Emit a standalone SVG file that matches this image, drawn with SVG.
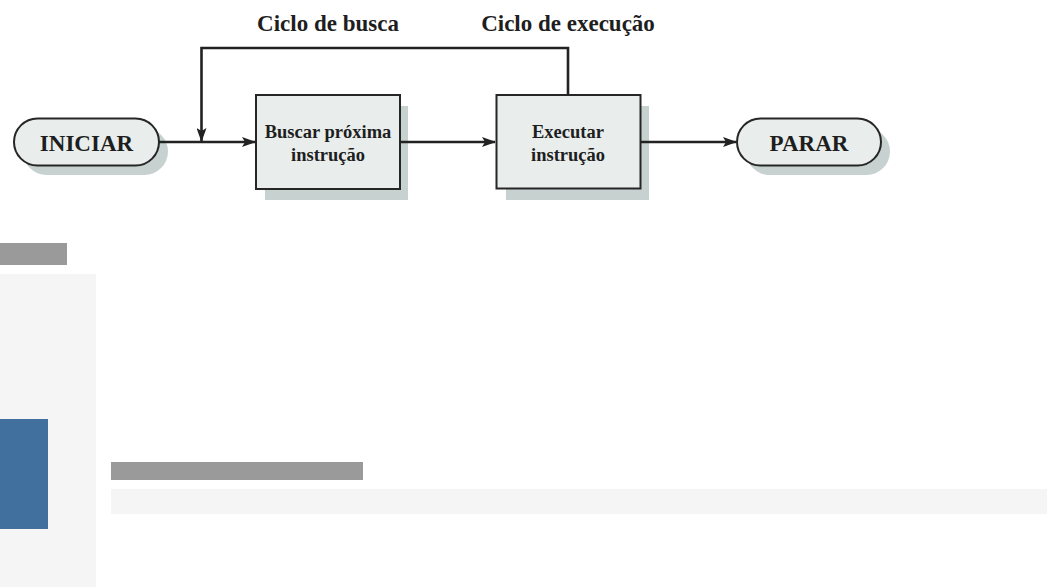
<svg xmlns="http://www.w3.org/2000/svg" width="1047" height="587" viewBox="0 0 1047 587">
<style>
.shadow{fill:#c6d1d0;stroke:none}
.node{fill:#e9eeed;stroke:#262626;stroke-width:2}
.lbl{font-family:"Liberation Serif","Times New Roman",serif;font-weight:bold;fill:#1e1e1e;text-anchor:middle}
.big{font-size:23px}
.small{font-size:18.5px}
.conn{fill:none;stroke:#222;stroke-width:2.6}
</style>
<defs>
<marker id="arr" viewBox="0 0 14 10" refX="13" refY="5" markerWidth="14" markerHeight="10" markerUnits="userSpaceOnUse" orient="auto">
<path d="M0,0 L14,5 L0,10 L3,5 Z" fill="#222"/>
</marker>
</defs>
<rect width="1047" height="587" fill="#ffffff"/>
<text class="lbl big" x="328" y="31">Ciclo de busca</text>
<text class="lbl big" x="568" y="31">Ciclo de execução</text>
<g id="iniciar">
<rect class="shadow" x="23" y="128" width="145" height="47" rx="23.5"/>
<rect class="node" x="14" y="118.5" width="145" height="47" rx="23.5"/>
<text class="lbl big" x="86.5" y="151">INICIAR</text>
</g>
<g id="buscar">
<rect class="shadow" x="265" y="106" width="143" height="94"/>
<rect class="node" x="256" y="95" width="144" height="94"/>
<text class="lbl small" x="328" y="138">Buscar próxima</text>
<text class="lbl small" x="328" y="161">instrução</text>
</g>
<g id="executar">
<rect class="shadow" x="506" y="106" width="143" height="94"/>
<rect class="node" x="496.5" y="95" width="144" height="93.5"/>
<text class="lbl small" x="568" y="138">Executar</text>
<text class="lbl small" x="568" y="161">instrução</text>
</g>
<g id="parar">
<rect class="shadow" x="746" y="128" width="144" height="47" rx="23.5"/>
<rect class="node" x="737" y="118.5" width="144" height="47" rx="23.5"/>
<text class="lbl big" x="809" y="151">PARAR</text>
</g>
<g id="connectors">
<line class="conn" x1="159" y1="142" x2="255" y2="142" marker-end="url(#arr)"/>
<line class="conn" x1="401" y1="142" x2="495" y2="142" marker-end="url(#arr)"/>
<line class="conn" x1="641" y1="142" x2="736" y2="142" marker-end="url(#arr)"/>
<polyline class="conn" points="568,94 568,48 201.5,48 201.5,141" marker-end="url(#arr)"/>
</g>
<rect x="0" y="243" width="67" height="22" fill="#9a9a9a"/>
<rect x="0" y="274" width="96" height="313" fill="#f5f5f5"/>
<rect x="0" y="419" width="48" height="110" fill="#41709f"/>
<rect x="111" y="462" width="252" height="18" fill="#9a9a9a"/>
<rect x="111" y="489" width="936" height="25" fill="#f5f5f5"/>
</svg>
